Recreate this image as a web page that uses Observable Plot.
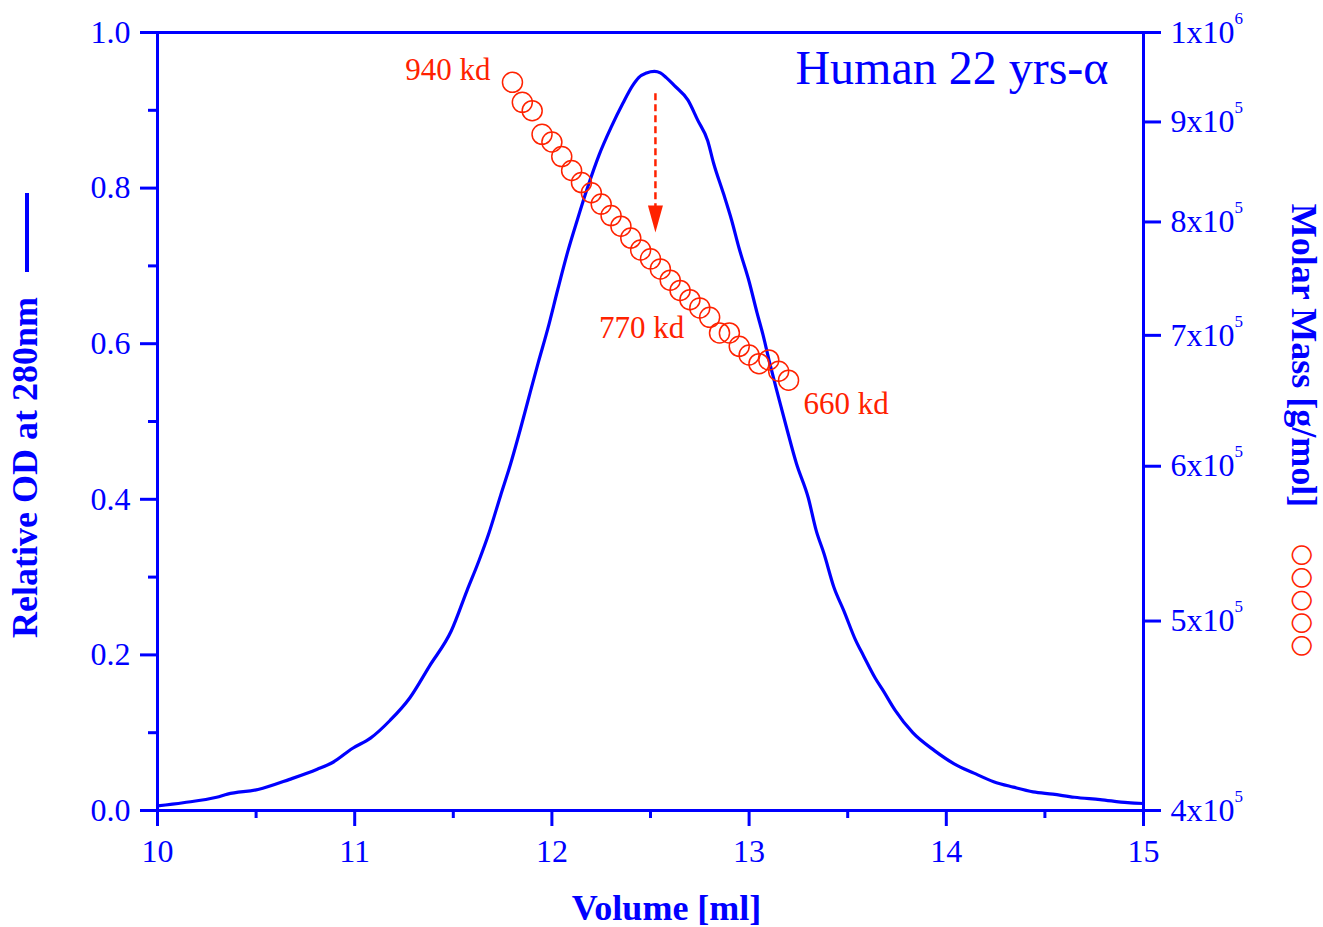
<!DOCTYPE html>
<html>
<head>
<meta charset="utf-8">
<script src="https://cdn.jsdelivr.net/npm/d3@7"></script>
<script src="https://cdn.jsdelivr.net/npm/@observablehq/plot@0.6"></script>
<style>
  html, body { margin: 0; padding: 0; background: #fff; overflow: hidden; }
  #chart svg { display: block; }
</style>
</head>
<body>
<div id="chart"></div>
<script>
// ---- Data ----
// Elution profile (relative OD at 280 nm vs volume, ml)
const volume = [10.0, 10.13, 10.30, 10.355, 10.51, 10.67, 10.81, 10.89, 10.99, 11.08, 11.18, 11.28, 11.38, 11.49, 11.57, 11.63, 11.68, 11.74, 11.79, 11.84, 11.88, 11.93, 11.98, 12.03, 12.08, 12.13, 12.18, 12.24, 12.30, 12.36, 12.41, 12.44, 12.48, 12.52, 12.55, 12.58, 12.62, 12.69, 12.74, 12.79, 12.82, 12.87, 12.91, 12.95, 13.00, 13.04, 13.07, 13.10, 13.14, 13.19, 13.24, 13.30, 13.34, 13.38, 13.43, 13.48, 13.54, 13.58, 13.64, 13.68, 13.74, 13.83, 13.94, 14.04, 14.14, 14.24, 14.34, 14.44, 14.54, 14.65, 14.78, 14.92, 15.0];
const od = [0.006, 0.010, 0.017, 0.021, 0.027, 0.040, 0.053, 0.062, 0.080, 0.093, 0.116, 0.145, 0.186, 0.231, 0.283, 0.321, 0.356, 0.405, 0.445, 0.490, 0.528, 0.575, 0.620, 0.670, 0.718, 0.760, 0.800, 0.843, 0.878, 0.909, 0.932, 0.942, 0.948, 0.950, 0.948, 0.942, 0.932, 0.913, 0.887, 0.861, 0.832, 0.793, 0.760, 0.722, 0.680, 0.640, 0.612, 0.580, 0.540, 0.492, 0.446, 0.402, 0.360, 0.330, 0.287, 0.257, 0.219, 0.199, 0.170, 0.154, 0.129, 0.100, 0.077, 0.060, 0.048, 0.037, 0.030, 0.024, 0.021, 0.017, 0.014, 0.010, 0.009];

// Molar mass (g/mol) vs volume
const massVolume = [11.80, 11.85, 11.90, 11.95, 12.00, 12.05, 12.10, 12.15, 12.20, 12.25, 12.30, 12.35, 12.40, 12.45, 12.50, 12.55, 12.60, 12.65, 12.70, 12.75, 12.80, 12.85, 12.90, 12.95, 13.00, 13.05, 13.10, 13.15, 13.20];
const molarMass = [943e3, 921e3, 912e3, 887e3, 879e3, 864e3, 850e3, 838e3, 828e3, 817e3, 806e3, 796e3, 785e3, 774e3, 766e3, 757e3, 747e3, 738e3, 730e3, 723e3, 715e3, 702e3, 702e3, 691e3, 684e3, 677e3, 680e3, 671e3, 664e3];

// Annotations
const massLabelVolume = [11.80, 12.50, 13.20];
const massLabelText = ["940 kd", "770 kd", "660 kd"];
const peakVolume = [12.525];
const peakArrowFrom = [0.922];
const peakArrowTo = [0.743];

// Ticks
const volumeTicks = [10, 11, 12, 13, 14, 15];
const volumeMinorTicks = [10.5, 11.5, 12.5, 13.5, 14.5];
const odTicks = [0, 0.2, 0.4, 0.6, 0.8, 1.0];
const odMinorTicks = [0.1, 0.3, 0.5, 0.7, 0.9];
const massTicks = [4e5, 5e5, 6e5, 7e5, 8e5, 9e5, 1e6];
const massDomain = [4e5, 1e6];

const titleText = "Human 22 yrs-α";
const xLabel = "Volume [ml]";
const yLabel = "Relative OD at 280nm";
const y2Label = "Molar Mass [g/mol]";

// ---- Build ----
const BLUE = "#0000ff";
const RED = "#ff2200";

// log-scale molar mass mapped onto the (0..1) frame of the left axis
const massToY = m => Math.log(m / massDomain[0]) / Math.log(massDomain[1] / massDomain[0]);
const yToMass = y => massDomain[0] * Math.pow(massDomain[1] / massDomain[0], y);

const profile = volume.map((v, i) => ({v, od: od[i]}));
const mass = massVolume.map((v, i) => ({v, m: molarMass[i], y: massToY(molarMass[i])}));
const massLabels = massLabelVolume.map((v, i) => {
  const p = mass.find(d => Math.abs(d.v - v) < 1e-6);
  return {v, y: p.y, text: massLabelText[i]};
});
const arrow = peakVolume.map((v, i) => ({v, from: peakArrowFrom[i], to: peakArrowTo[i]}));

const fmtMass = d => {
  const m = Math.round(yToMass(d) / 1e4) * 1e4;
  const e = Math.floor(Math.log10(m) + 1e-9);
  const mant = Math.round(m / Math.pow(10, e));
  return `${mant}x10^${e}`;
};

// elongated filled arrow head; tip at the origin, pointing down
const arrowHead = {
  draw(ctx) {
    ctx.moveTo(0, 0);
    ctx.lineTo(-7.5, -27);
    ctx.lineTo(7.5, -27);
    ctx.closePath();
  }
};

const chart = Plot.plot({
  width: 1323,
  height: 927,
  marginLeft: 157,
  marginRight: 180,
  marginTop: 32,
  marginBottom: 117,
  style: {fontFamily: "'Liberation Serif', 'Times New Roman', serif", fontSize: "32px", color: BLUE, background: "white", overflow: "visible"},
  x: {domain: [10, 15]},
  y: {domain: [0, 1]},
  marks: [
    Plot.frame({stroke: BLUE, strokeWidth: 3}),
    // bottom axis
    Plot.axisX({anchor: "bottom", ticks: volumeTicks, tickSize: 16, tickPadding: 13, strokeWidth: 3, tickFormat: d => String(d), fontSize: 32, label: null}),
    Plot.axisX({anchor: "bottom", ticks: volumeMinorTicks, tickSize: 8, strokeWidth: 3, tickFormat: () => "", label: null}),
    // left axis
    Plot.axisY({anchor: "left", ticks: odTicks, tickSize: 17, tickPadding: 10, strokeWidth: 3, tickFormat: d3.format(".1f"), fontSize: 32, label: null}),
    Plot.axisY({anchor: "left", ticks: odMinorTicks, tickSize: 9, strokeWidth: 3, tickFormat: () => "", label: null}),
    // right axis (log molar mass)
    Plot.axisY({anchor: "right", ticks: massTicks.map(massToY), tickSize: 17, tickPadding: 10, strokeWidth: 3, tickFormat: fmtMass, fontSize: 32, label: null}),
    // profile
    Plot.line(profile, {x: "v", y: "od", stroke: BLUE, strokeWidth: 3.2, strokeLinejoin: "round", curve: "monotone-x"}),
    // molar mass points
    Plot.dot(mass, {x: "v", y: "y", r: 10, stroke: RED, fill: "none", strokeWidth: 1.5}),
    // peak arrow
    Plot.link(arrow, {x1: "v", x2: "v", y1: "from", y2: d => d.to + 0.033, stroke: RED, strokeWidth: 2.5, strokeDasharray: "7,4"}),
    Plot.dot(arrow, {x: "v", y: "to", symbol: arrowHead, r: 8, fill: RED, stroke: "none"}),
    // mass labels
    Plot.text(massLabels.filter((d, i) => i === 0), {x: "v", y: "y", text: "text", textAnchor: "end", dx: -22, dy: -12, fill: RED, fontSize: 31}),
    Plot.text(massLabels.filter((d, i) => i === 1), {x: "v", y: "y", text: "text", textAnchor: "middle", dx: -9, dy: 69, fill: RED, fontSize: 31}),
    Plot.text(massLabels.filter((d, i) => i === 2), {x: "v", y: "y", text: "text", textAnchor: "start", dx: 15, dy: 24, fill: RED, fontSize: 31}),
    // title
    Plot.text([titleText], {frameAnchor: "top-right", textAnchor: "end", lineAnchor: "top", dx: -35, dy: 17, fontSize: 48, fill: BLUE}),
    // axis titles
    Plot.text([xLabel], {frameAnchor: "bottom", textAnchor: "middle", dx: 16, dy: 109, fontSize: 36, fontWeight: "bold", fill: BLUE}),
    Plot.text([yLabel], {frameAnchor: "left", textAnchor: "middle", lineAnchor: "middle", rotate: -90, dx: -132, dy: 46, fontSize: 36, fontWeight: "bold", fill: BLUE}),
    Plot.text([y2Label], {frameAnchor: "right", textAnchor: "middle", lineAnchor: "middle", rotate: 90, dx: 160, dy: -66, fontSize: 36, fontWeight: "bold", fill: BLUE}),
    Plot.text(["○○○○○"], {frameAnchor: "right", textAnchor: "middle", lineAnchor: "middle", rotate: 90, dx: 160, dy: 179, fontSize: 26, fontFamily: "DejaVu Sans", fill: RED})
  ]
});

// superscripts on the right-axis labels
d3.select(chart).selectAll("text").each(function () {
  const t = this.textContent;
  if (t.includes("^") && this.childElementCount === 0) {
    const [base, exp] = t.split("^");
    const sel = d3.select(this);
    sel.text(base);
    sel.append("tspan").attr("dy", -19).attr("font-size", 17).text(exp);
  }
});

// legend line next to the left axis title
d3.select(chart).append("line")
  .attr("x1", 27).attr("x2", 27).attr("y1", 193).attr("y2", 272)
  .attr("stroke", BLUE).attr("stroke-width", 4);

document.getElementById("chart").appendChild(chart);
</script>
</body>
</html>
